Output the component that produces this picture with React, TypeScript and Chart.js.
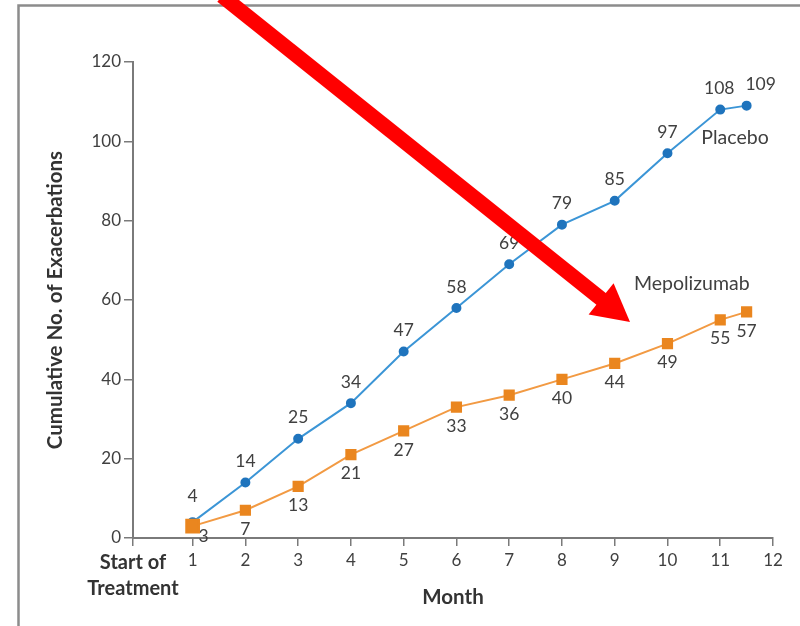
import React, { useEffect, useRef } from "react";
import { Chart, registerables } from "chart.js";

Chart.register(...registerables);

// ---- data ----
const months = [1, 2, 3, 4, 5, 6, 7, 8, 9, 10, 11, 11.5];
const placebo = [4, 14, 25, 34, 47, 58, 69, 79, 85, 97, 108, 109];
const mepolizumab = [3, 7, 13, 21, 27, 33, 36, 40, 44, 49, 55, 57];
const xTickValues = [1, 2, 3, 4, 5, 6, 7, 8, 9, 10, 11, 12];
const startLabel = ["Start of", "Treatment"];
const seriesNames = ["Placebo", "Mepolizumab"];

const X_MIN = -0.13;
const FONT = "Lato, 'Open Sans', sans-serif";
const TEXT = "#404040";

const labelPlugin = {
  id: "valueLabels",
  beforeDatasetsDraw(chart: any) {
    const ctx = chart.ctx;
    ctx.save();
    ctx.font = `17.5px ${FONT}`;
    ctx.fillStyle = TEXT;
    ctx.textAlign = "center";
    ctx.textBaseline = "middle";
    chart.data.datasets.forEach((ds: any, di: number) => {
      const meta = chart.getDatasetMeta(di);
      meta.data.forEach((pt: any, i: number) => {
        const v = ds.data[i].y;
        let dx = 0;
        let dy = ds.label === "Placebo" ? -21 : 19;
        if (ds.label === "Placebo" && i === 11) dx = 14;
        if (ds.label === "Placebo" && i === 10) dx = -1;
        if (ds.label === "Placebo" && i === 0) dy = -26;
        if (ds.label === "Mepolizumab" && i === 0) { dx = 11; dy = 10; }
        ctx.fillText(String(v), pt.x + dx, pt.y + dy);
      });
    });
    // series name labels
    const xs = chart.scales.x;
    const ys = chart.scales.y;
    ctx.font = `19.5px ${FONT}`;
    ctx.fillText(seriesNames[0], xs.getPixelForValue(11.28), ys.getPixelForValue(101));
    ctx.fillText(seriesNames[1], xs.getPixelForValue(10.46), ys.getPixelForValue(64));
    ctx.restore();
  },
};

const framePlugin = {
  id: "frameArrow",
  beforeDraw(chart: any) {
    const ctx = chart.ctx;
    ctx.save();
    ctx.fillStyle = "#fff";
    ctx.fillRect(0, 0, chart.width, chart.height);
    ctx.strokeStyle = "#8c8c8c";
    ctx.lineWidth = 2.5;
    ctx.beginPath();
    ctx.moveTo(18.5, chart.height);
    ctx.lineTo(18.5, 5.5);
    ctx.lineTo(chart.width, 5.5);
    ctx.stroke();
    ctx.restore();
  },
  afterDraw(chart: any) {
    const ctx = chart.ctx;
    ctx.save();
    const sx = 222, sy = -4;
    const tx = 630, ty = 322;
    const ang = Math.atan2(ty - sy, tx - sx);
    const headLen = 37;
    const headHalf = 20;
    const bx = tx - headLen * Math.cos(ang);
    const by = ty - headLen * Math.sin(ang);
    ctx.strokeStyle = "#ff0000";
    ctx.fillStyle = "#ff0000";
    ctx.lineWidth = 15;
    ctx.beginPath();
    ctx.moveTo(sx, sy);
    ctx.lineTo(bx + 2 * Math.cos(ang), by + 2 * Math.sin(ang));
    ctx.stroke();
    const px = -Math.sin(ang), py = Math.cos(ang);
    ctx.beginPath();
    ctx.moveTo(tx, ty);
    ctx.lineTo(bx + px * headHalf, by + py * headHalf);
    ctx.lineTo(bx - px * headHalf, by - py * headHalf);
    ctx.closePath();
    ctx.fill();
    ctx.restore();
  },
};

export default function App() {
  const ref = useRef<HTMLCanvasElement | null>(null);
  useEffect(() => {
    document.body.style.margin = "0";
    const canvas = ref.current;
    if (!canvas) return;
    const chart = new Chart(canvas, {
      type: "line",
      data: {
        datasets: [
          {
            label: "Placebo",
            data: months.map((m, i) => ({ x: m, y: placebo[i] })),
            borderColor: "#3b95d6",
            backgroundColor: "#1f74bd",
            pointBackgroundColor: "#1f74bd",
            pointBorderColor: "#1f74bd",
            borderWidth: 2,
            pointRadius: 4,
            pointStyle: "circle",
            order: 2,
          },
          {
            label: "Mepolizumab",
            data: months.map((m, i) => ({ x: m, y: mepolizumab[i] })),
            borderColor: "#f29a43",
            backgroundColor: "#ea861f",
            pointBackgroundColor: "#ea861f",
            pointBorderColor: "#ea861f",
            borderWidth: 2,
            pointRadius: (c: any) => (c.dataIndex === 0 ? 9 : 6.5),
            pointStyle: "rect",
            order: 1,
          },
        ],
      },
      options: {
        responsive: false,
        animation: false,
        layout: { padding: { top: 62, right: 27, left: 0, bottom: 0 } },
        plugins: {
          legend: { display: false },
          tooltip: { enabled: false },
        },
        scales: {
          x: {
            type: "linear",
            min: X_MIN,
            max: 12,
            afterBuildTicks: (s: any) => {
              s.ticks = [X_MIN, ...xTickValues].map((v) => ({ value: v }));
            },
            afterFit: (s: any) => {
              s.height = 88;
            },
            ticks: {
              autoSkip: false,
              maxRotation: 0,
              padding: 4,
              color: (c: any) => (c.tick && c.tick.value === X_MIN ? "#333" : TEXT),
              font: (c: any) =>
                c.tick && c.tick.value === X_MIN
                  ? { family: FONT, size: 20, weight: "bold", lineHeight: 1.3 }
                  : { family: FONT, size: 17 },
              callback: (v: any) => (v === X_MIN ? startLabel : String(v)),
            },
            grid: {
              drawOnChartArea: false,
              drawTicks: true,
              tickLength: 8,
              color: "#7a7a7a",
              lineWidth: 1.5,
            },
            border: { display: true, color: "#7a7a7a", width: 2 },
            title: {
              display: true,
              text: "Month",
              color: "#333",
              font: { family: FONT, size: 20.5, weight: "bold" },
              padding: { top: 0, bottom: 16 },
            },
          },
          y: {
            min: 0,
            max: 120,
            afterFit: (s: any) => {
              s.width = 133;
            },
            ticks: {
              stepSize: 20,
              padding: 3,
              color: TEXT,
              font: { family: FONT, size: 17 },
            },
            grid: {
              drawOnChartArea: false,
              drawTicks: true,
              tickLength: 9,
              color: "#7a7a7a",
              lineWidth: 1.5,
            },
            border: { display: true, color: "#7a7a7a", width: 2 },
            title: {
              display: true,
              text: "Cumulative No. of Exacerbations",
              color: "#333",
              font: { family: FONT, size: 20.5, weight: "bold" },
              padding: { top: 43, bottom: 0 },
            },
          },
        },
      },
      plugins: [framePlugin, labelPlugin],
    });
    return () => chart.destroy();
  }, []);
  return <canvas ref={ref} width={800} height={626} style={{ display: "block" }} />;
}
